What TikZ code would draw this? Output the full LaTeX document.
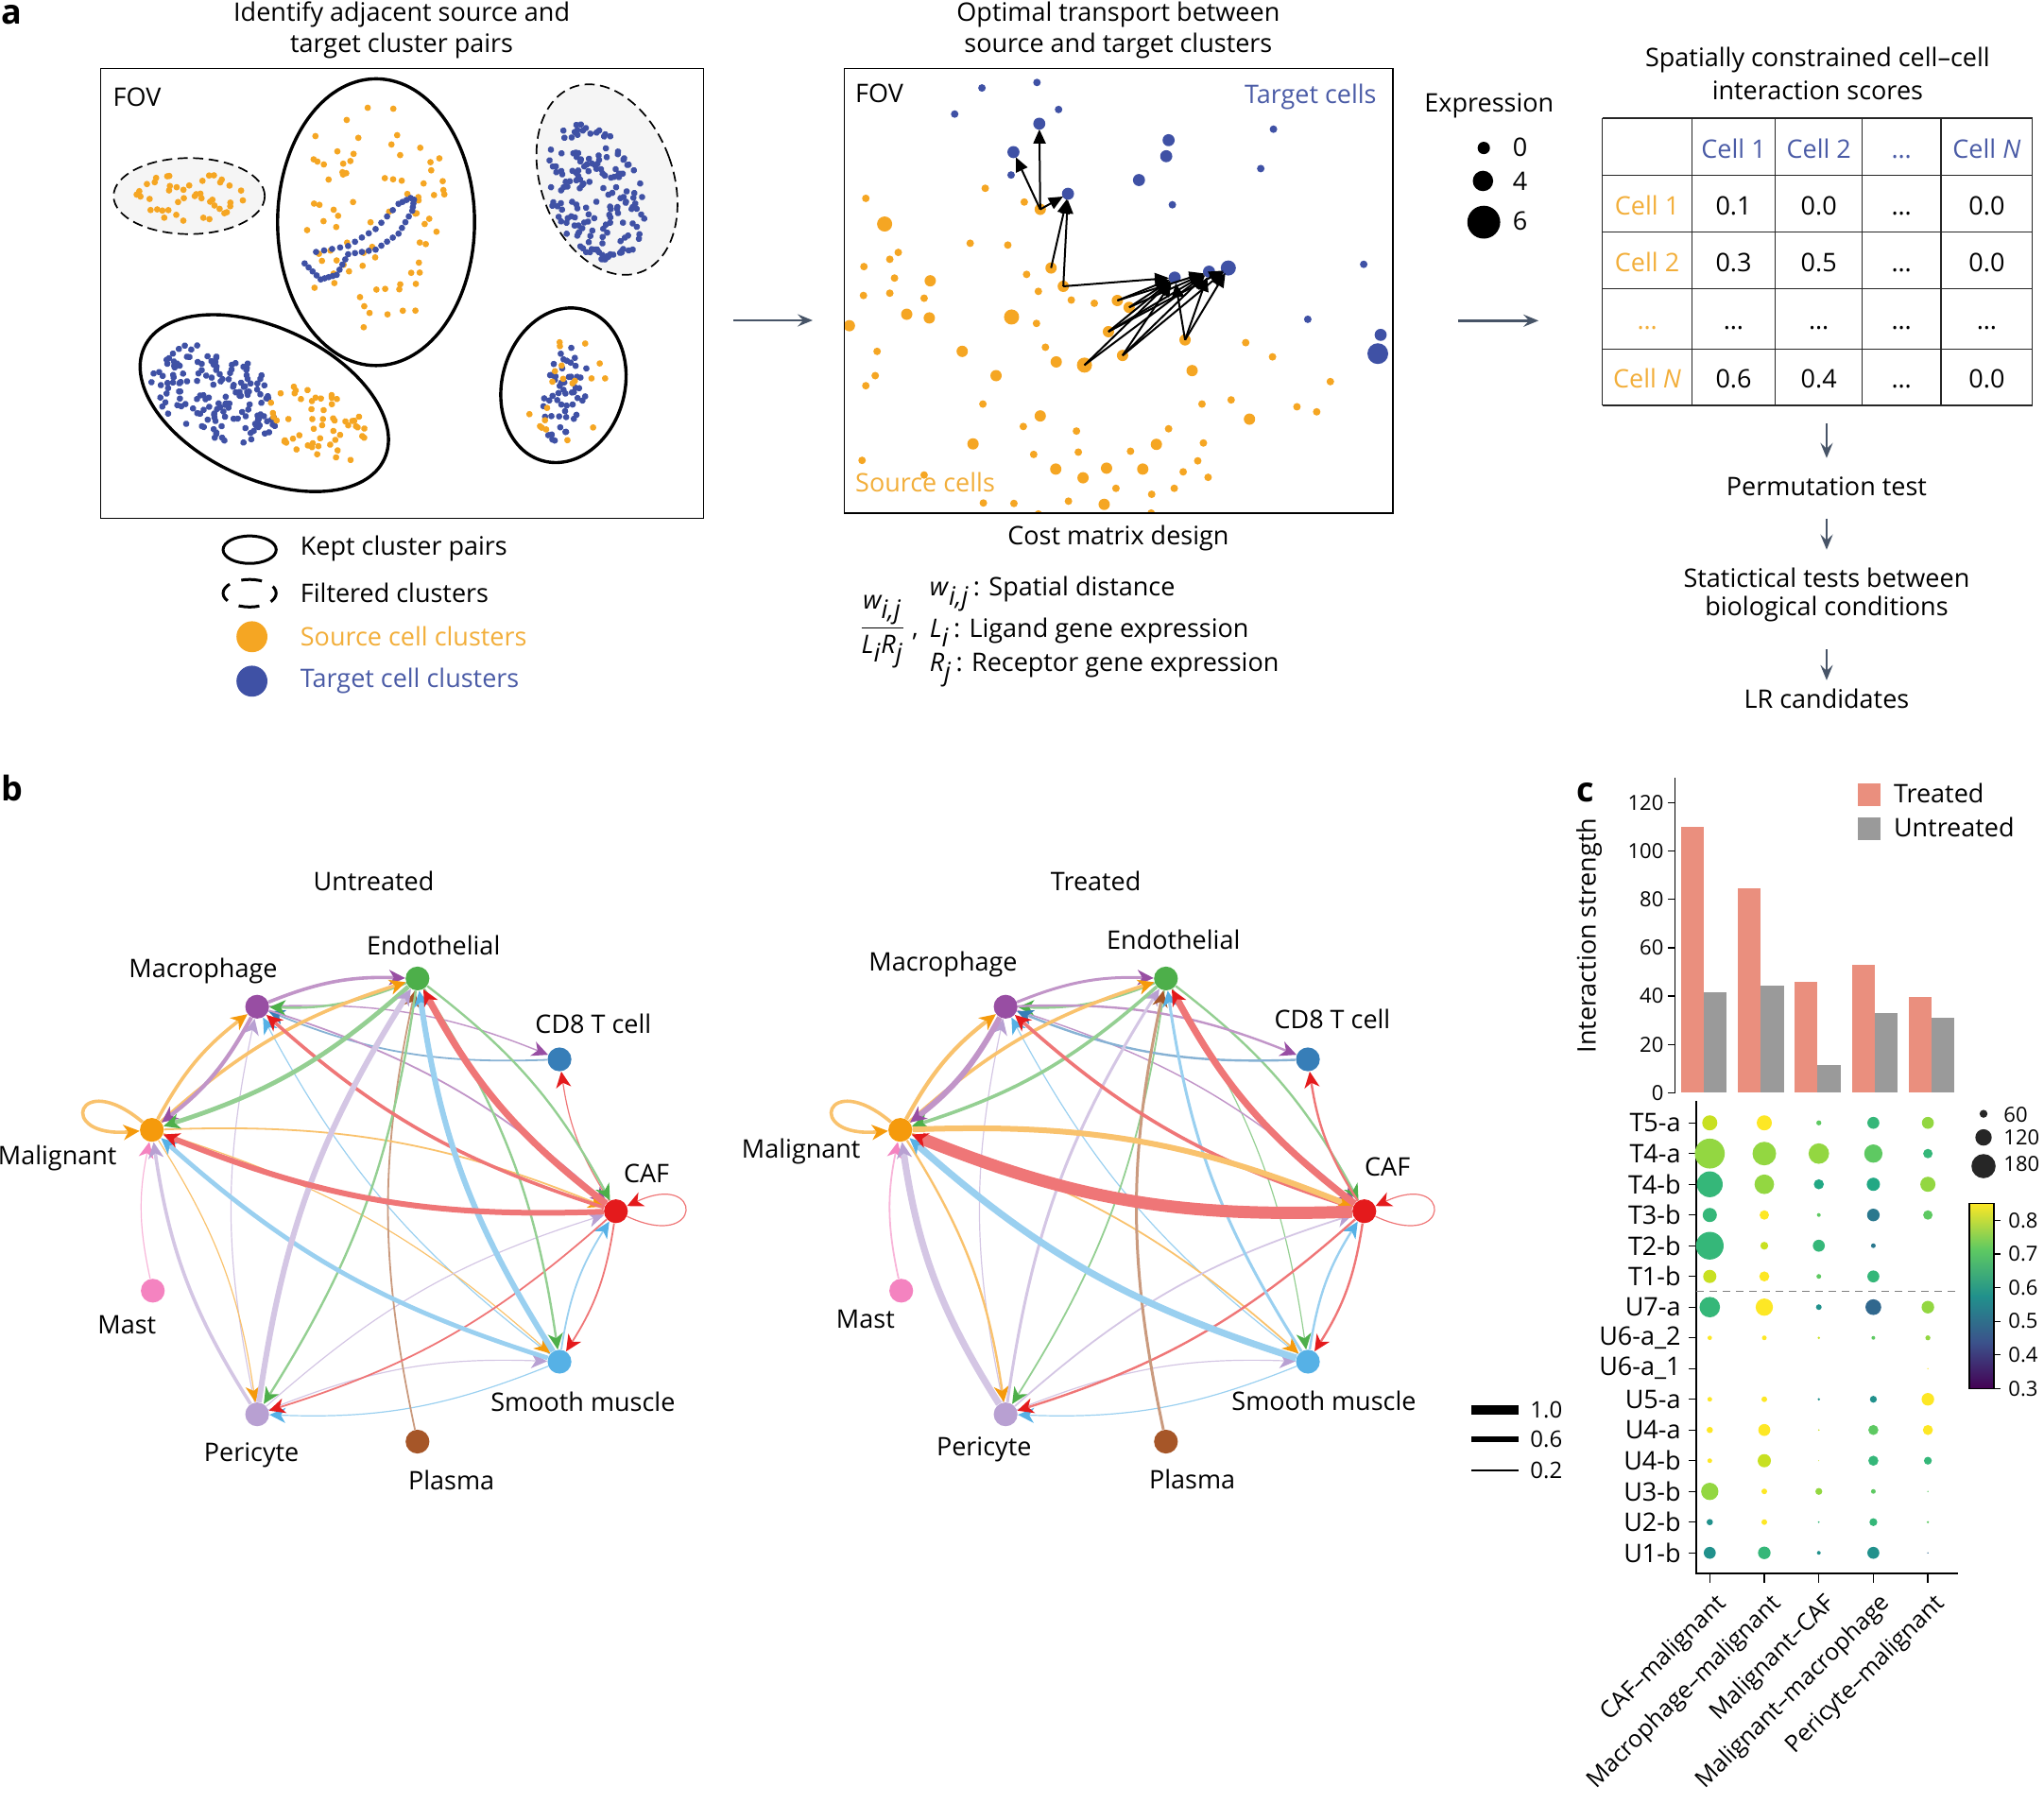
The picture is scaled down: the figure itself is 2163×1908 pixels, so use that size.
\documentclass[tikz,border=0pt]{standalone}
\usepackage{fontspec}
\setmainfont{Open Sans}
\usetikzlibrary{arrows.meta,calc,backgrounds}

\definecolor{src}{HTML}{F5A623}
\definecolor{tgt}{HTML}{3F51A5}
\definecolor{srctxt}{HTML}{F2AE3A}
\definecolor{tgttxt}{HTML}{4A5BA6}
\definecolor{slate}{HTML}{475467}
\definecolor{lightfill}{HTML}{F5F5F5}
\definecolor{cEnd}{HTML}{4DAF4A}
\definecolor{cMac}{HTML}{984EA3}
\definecolor{cCD8}{HTML}{377EB8}
\definecolor{cMal}{HTML}{F59A0C}
\definecolor{cCAF}{HTML}{E41A1C}
\definecolor{cMast}{HTML}{F483C0}
\definecolor{cSM}{HTML}{56B1E6}
\definecolor{cPer}{HTML}{B8A0D2}
\definecolor{cPla}{HTML}{A65628}
\definecolor{barT}{HTML}{EA8F7E}
\definecolor{barU}{HTML}{9A9A9A}
\definecolor{vA}{HTML}{440154}
\definecolor{vB}{HTML}{3B528B}
\definecolor{vC}{HTML}{21918C}
\definecolor{vD}{HTML}{5EC962}
\definecolor{vE}{HTML}{FDE725}
\definecolor{dY}{HTML}{FDE725}
\definecolor{dYG}{HTML}{C8E021}
\definecolor{dLG}{HTML}{93D741}
\definecolor{dG}{HTML}{5EC962}
\definecolor{dGT}{HTML}{35B779}
\definecolor{dT}{HTML}{22A884}
\definecolor{dTB}{HTML}{21918C}
\definecolor{dB}{HTML}{2A788E}
\definecolor{dDB}{HTML}{31688E}

\tikzset{
  smallfont/.style={font=\fontsize{11}{13}\selectfont},
  panel/.style={font=\fontsize{18}{18}\selectfont\bfseries, anchor=base west},
  flow/.style={draw=slate, line width=1.3pt, -{Stealth[length=8pt,width=6.5pt,inset=3pt]}},
  solidell/.style={line width=1.7pt},
  dashell/.style={line width=0.85pt, dash pattern=on 5.3pt off 2.9pt, fill=lightfill},
  tarr/.style={line width=1pt, -{Triangle[length=7.5pt,width=6.5pt]}, shorten >=3pt},
  ed/.style={draw=#1!60!white, -{Stealth[length=8.5pt,width=8pt,inset=2.5pt,color=#1]}},
  cnode/.style={circle, minimum size=12.6pt, inner sep=0pt},
}

\newcommand\scatdots[7]{%
  \begin{scope}[rotate around={#6:(#2,#3)}]
  \foreach \k in {1,...,#1}{%
    \pgfmathsetmacro\mydang{360*rnd}%
    \pgfmathsetmacro\mydrad{sqrt(rnd)}%
    \pgfmathsetmacro\myrx{\mydrad*#4}%
    \pgfmathsetmacro\myry{\mydrad*#5}%
    \fill[#7] (#2,#3) ++(\mydang:{\myrx} and {\myry}) circle[radius=1.7pt];
  }%
  \end{scope}}

\newcommand\edg[5]{\draw[ed=#4, line width={1.2*#5pt}] (#1#2) to[bend left=12] (#1#3);}

\newcommand\netnodes[1]{%
  \node[cnode,fill=cEnd] (#1E) at (888,433) {};
  \node[cnode,fill=cMac] (#1M) at (547,493) {};
  \node[cnode,fill=cCD8] (#1C) at (1190,605) {};
  \node[cnode,fill=cMal] (#1L) at (323,755) {};
  \node[cnode,fill=cCAF] (#1F) at (1310,928) {};
  \node[cnode,fill=cMast] (#1S) at (325,1097) {};
  \node[cnode,fill=cSM] (#1Q) at (1190,1248) {};
  \node[cnode,fill=cPer] (#1P) at (547,1360) {};
  \node[cnode,fill=cPla] (#1A) at (888,1418) {};
}

\begin{document}
\begin{tikzpicture}[x=0.5pt,y=-0.5pt, every node/.style={inner sep=0pt, font=\fontsize{13.5}{16.7}\selectfont}]
\useasboundingbox (0,0) rectangle (2163,1908);
\pgfmathsetseed{12}

% panel labels
\node[panel] (pa) at (1,25) {a};
\node[panel] (pb) at (1,847) {b};
\node[panel] (pc) at (1668,848) {c};

% ================= panel a left =================
\begin{scope}[x=0.24237pt,y=-0.24237pt]
  \node (title1a) at (877,32) {Identify adjacent source and};
  \node (title1b) at (877,100) {target cluster pairs};
  \draw[line width=0.7pt] (220,150) rectangle (1536,1132);
  \node[anchor=west] (fov1) at (246,212) {FOV};
  \draw[dashell] (413,428) ellipse [x radius=165, y radius=83];
  \draw[dashell, rotate around={20:(1325,392)}] (1325,392) ellipse [x radius=144, y radius=215];
  % dots
  \scatdots{45}{415}{430}{118}{55}{0}{src}
  \scatdots{170}{1300}{420}{100}{155}{20}{tgt}
  \scatdots{80}{812}{470}{172}{250}{0}{src}
  \foreach \ax/\ay/\bx/\by in {690/550/760/537, 760/537/820/500, 820/500/870/445, 870/445/905/428,
     665/575/700/610, 700/610/735/600, 735/600/760/555, 760/555/820/545, 820/545/870/510, 870/510/900/460, 900/460/905/428}
    \foreach \t in {0,0.25,0.5,0.75}
      \fill[tgt] ({\ax+\t*(\bx-\ax)},{\ay+\t*(\by-\ay)}) circle[radius=1.7pt];
  \scatdots{160}{468}{860}{150}{95}{-25}{tgt}
  \scatdots{55}{690}{925}{120}{75}{-25}{src}
  \scatdots{55}{1232}{860}{48}{105}{-10}{tgt}
  \scatdots{20}{1240}{850}{90}{120}{-10}{src}
  \draw[solidell] (821,485) ellipse [x radius=215, y radius=313];
  \draw[solidell, rotate around={-25:(577,880)}] (577,880) ellipse [x radius=289, y radius=165];
  \draw[solidell, rotate around={-15:(1230,841)}] (1230,841) ellipse [x radius=134, y radius=171];
  % legend
  \draw[line width=1.5pt] (545,1200) ellipse [x radius=58, y radius=30];
  \draw[line width=1.5pt, dash pattern=on 11pt off 6.5pt, dash phase=5.5pt] (545,1295) ellipse [x radius=58, y radius=30];
  \fill[src] (550,1390) circle[radius=8.2pt];
  \fill[tgt] (550,1487) circle[radius=8.2pt];
  \node[anchor=west] (lg1) at (655,1198) {Kept cluster pairs};
  \node[anchor=west] (lg2) at (655,1295) {Filtered clusters};
  \node[anchor=west, text=srctxt] (lg3) at (655,1390) {Source cell clusters};
  \node[anchor=west, text=tgttxt] (lg4) at (655,1487) {Target cell clusters};
\end{scope}

% arrow box1 -> box2
\coordinate (fa1) at (776,339);
\coordinate (fa2) at (860,339);
\draw[flow] (fa1) -- (fa2);

% ================= panel a middle =================
\begin{scope}[shift={(860,0)}, x=0.24876pt, y=-0.24237pt]
  \node (title2a) at (650,32) {Optimal transport between};
  \node (title2b) at (650,100) {source and target clusters};
  \begin{scope}
    \clip (67,150) rectangle (1234,1120);
    \foreach \xx/\yy in {113/433,109/582,164/566,182/551,174/607,108/645,164/640,237/651,137/767,133/820,113/842,476/706,495/758,550/655,599/662,480/636,455/599,415/535,335/531,367/411,450/441,921/748,978/779,1101/833,890/873,1030/888,1072/899,828/882,757/936,831/967,676/985,819/1006,841/1042,788/1030,565/987,561/941,470/992,448/931,362/882,105/1005,237/1037,363/1098,428/1099,544/1094,645/1066,721/1079,769/1066,480/1122,720/1120}
      \fill[src] (\xx,\yy) circle[radius=2pt];
    \foreach \xx/\yy in {250/613,200/686,248/694,78/711,318/767,390/820,518/790,659/776,629/724,648/656,673/671,507/585,533/625,484/457,792/742,807/809,929/915,731/970,702/1024,625/1022,575/1043,517/1024,484/908,341/969,620/1101}
      \fill[src] (\xx,\yy) circle[radius=3pt];
    \foreach \xx/\yy in {153/489,423/692,578/797}
      \fill[src] (\xx,\yy) circle[radius=4pt];
    \foreach \xx/\yy in {360/192,477/180,302/249,523/239,422/382,765/447,953/368,980/282,1172/577,1053/697}
      \fill[tgt] (\xx,\yy) circle[radius=2pt];
    \foreach \xx/\yy in {482/270,427/332,543/423,694/393,757/306,752/341,770/606,843/593,1208/731}
      \fill[tgt] (\xx,\yy) circle[radius=3.2pt];
    \fill[tgt] (884,585) circle[radius=4pt];
    \fill[tgt] (1202,772) circle[radius=5.5pt];
  \end{scope}
  \draw[line width=0.7pt] (67,150) rectangle (1234,1120);
  \node[anchor=west] (fov2) at (90,203) {FOV};
  \node[anchor=east, text=tgttxt] (tcells) at (1200,212) {Target cells};
  \node[anchor=west, text=srctxt] (scells) at (90,1052) {Source cells};
  \foreach \n/\xx/\yy in {s1/484/457, s2/507/585, s3/533/625, s4/648/656, s5/673/671, s6/629/724, s7/659/776, s8/578/797, s9/792/742,
      t1/482/270, t2/427/332, t3/543/423, t4/770/606, t5/843/593, t6/884/585}
    \coordinate (\n) at (\xx,\yy);
  \foreach \a/\b in {s1/t1, s1/t2, s1/t3, s2/t3, s3/t3, s3/t4, s4/t4, s4/t5, s5/t4, s5/t5, s6/t4, s6/t5, s6/t6, s7/t4, s7/t5, s7/t6, s8/t4, s8/t5, s9/t4, s9/t5, s9/t6}
    \draw[tarr] (\a) -- (\b);
  \node (costm) at (650,1175) {Cost matrix design};
  \node (frac) at (148,1380) {$\displaystyle\frac{\textit{w}_{\textit{i,j}}}{\textit{L}_{\textit{i}}\textit{R}_{\textit{j}}}$};
  \node (comma) at (218,1390) {,};
  \node[anchor=west] (f1) at (248,1297) {\textit{w}$_{\textit{i,j}}$\,: Spatial distance};
  \node[anchor=west] (f2) at (248,1380) {\textit{L}$_{\textit{i}}$\,: Ligand gene expression};
  \node[anchor=west] (f3) at (248,1462) {\textit{R}$_{\textit{j}}$\,: Receptor gene expression};
\end{scope}

% ================= panel a right =================
\begin{scope}[shift={(1480,0)}, x=0.21777pt, y=-0.24237pt]
  \node (expr) at (220,230) {Expression};
  \fill (207,323) circle[radius=3.27pt];
  \fill (205,395) circle[radius=5.4pt];
  \fill (207,485) circle[radius=8.7pt];
  \node (ex0) at (295,322) {0};
  \node (ex4) at (295,395) {4};
  \node (ex6) at (295,483) {6};
  \coordinate (fb1) at (145,700);
  \coordinate (fb2) at (340,700);
  \draw[flow] (fb1) -- (fb2);
  \node (title3a) at (1018,130) {Spatially constrained cell–cell};
  \node (title3b) at (1018,198) {interaction scores};
  \foreach \xx in {495,713,915,1127,1318,1540} \draw[line width=0.6pt, draw=black!85] (\xx,258) -- (\xx,885);
  \foreach \yy in {258,383,506,630,762,885} \draw[line width=0.6pt, draw=black!85] (495,\yy) -- (1540,\yy);
  % header
  \node[anchor=base, text=tgttxt] (h1) at (814,345) {Cell 1};
  \node[anchor=base, text=tgttxt] (h2) at (1021,345) {Cell 2};
  \node[anchor=base, text=tgttxt] (h3) at (1222,345) {…};
  \node[anchor=base, text=tgttxt] (h4) at (1429,345) {Cell \textit{N}};
  \node[anchor=base, text=srctxt] (r1) at (604,469) {Cell 1};
  \node[anchor=base, text=srctxt] (r2) at (604,593) {Cell 2};
  \node[anchor=base, text=srctxt] (r3) at (604,718) {…};
  \node[anchor=base, text=srctxt] (r4) at (604,847) {Cell \textit{N}};
  \foreach \cx/\a/\b/\c/\d in {814/0.1/0.3/…/0.6, 1021/0.0/0.5/…/0.4, 1222/…/…/…/…, 1429/0.0/0.0/…/0.0}{
    \node[anchor=base] (c\cx a) at (\cx,469) {\a};
    \node[anchor=base] (c\cx b) at (\cx,593) {\b};
    \node[anchor=base] (c\cx c) at (\cx,718) {\c};
    \node[anchor=base] (c\cx d) at (\cx,847) {\d};
  }
  \node (perm) at (1040,1062) {Permutation test};
  \node (stata) at (1040,1262) {Statictical tests between};
  \node (statb) at (1040,1330) {biological conditions};
  \node (lrc) at (1040,1525) {LR candidates};
  \coordinate (d1a) at (1040,925); \coordinate (d1b) at (1040,1000);
  \coordinate (d2a) at (1040,1132); \coordinate (d2b) at (1040,1200);
  \coordinate (d3a) at (1040,1418); \coordinate (d3b) at (1040,1485);
  \draw[flow] (d1a) -- (d1b);
  \draw[flow] (d2a) -- (d2b);
  \draw[flow] (d3a) -- (d3b);
\end{scope}

% ================= panel b untreated =================
\begin{scope}[shift={(0,820)}, x=0.24876pt, y=-0.24876pt]
  \node (uTitle) at (795,225) {Untreated};
  \netnodes{u}
  \node (uEl) at (922,363) {Endothelial};
  \node (uMl) at (432,417) {Macrophage};
  \node (uCl) at (1262,530) {CD8 T cell};
  \node (uLl) at (122,815) {Malignant};
  \node (uFl) at (1375,848) {CAF};
  \node (uSl) at (270,1170) {Mast};
  \node (uQl) at (1240,1333) {Smooth muscle};
  \node (uPl) at (535,1447) {Pericyte};
  \node (uAl) at (960,1500) {Plasma};
  \begin{scope}[on background layer]
    \draw[ed=cMal, line width=1.8pt] (uL) to[out=140,in=185,min distance=45pt] (uL);
    \draw[ed=cCAF, line width=0.6pt] (uF) to[out=-25,in=25,min distance=45pt] (uF);
    \edg{u}{P}{M}{cPer}{0.5}
    \edg{u}{Q}{M}{cSM}{0.5}
    \edg{u}{S}{L}{cMast}{0.5}
    \edg{u}{L}{Q}{cMal}{0.5}
    \edg{u}{L}{P}{cMal}{0.5}
    \edg{u}{P}{F}{cPer}{0.5}
    \edg{u}{P}{Q}{cPer}{0.5}
    \edg{u}{Q}{P}{cSM}{0.5}
    \edg{u}{F}{C}{cCAF}{0.5}
    \edg{u}{M}{C}{cMac}{0.6}
    \edg{u}{C}{M}{cCD8}{0.75}
    \edg{u}{M}{F}{cMac}{0.75}
    \edg{u}{A}{E}{cPla}{0.75}
    \edg{u}{L}{F}{cMal}{0.75}
    \edg{u}{Q}{F}{cSM}{0.75}
    \edg{u}{F}{Q}{cCAF}{0.75}
    \edg{u}{F}{P}{cCAF}{0.75}
    \edg{u}{E}{M}{cEnd}{1}
    \edg{u}{E}{F}{cEnd}{1}
    \edg{u}{E}{Q}{cEnd}{1}
    \edg{u}{E}{P}{cEnd}{1}
    \edg{u}{M}{E}{cMac}{1.5}
    \edg{u}{L}{E}{cMal}{1.5}
    \edg{u}{L}{M}{cMal}{1.5}
    \edg{u}{F}{M}{cCAF}{1.5}
    \edg{u}{P}{L}{cPer}{1.5}
    \edg{u}{M}{L}{cMac}{1.75}
    \edg{u}{E}{L}{cEnd}{2}
    \edg{u}{Q}{L}{cSM}{2}
    \edg{u}{P}{E}{cPer}{2.5}
    \edg{u}{Q}{E}{cSM}{2.5}
    \edg{u}{F}{L}{cCAF}{2.5}
    \edg{u}{F}{E}{cCAF}{3}
  \end{scope}
\end{scope}

% ================= panel b treated =================
\begin{scope}[shift={(792,820)}, x=0.24876pt, y=-0.24876pt]
  \node (tTitle) at (739,225) {Treated};
  \netnodes{t}
  \node (tEl) at (904,350) {Endothelial};
  \node (tMl) at (414,403) {Macrophage};
  \node (tCl) at (1242,520) {CD8 T cell};
  \node (tLl) at (112,800) {Malignant};
  \node (tFl) at (1359,833) {CAF};
  \node (tSl) at (249,1158) {Mast};
  \node (tQl) at (1224,1332) {Smooth muscle};
  \node (tPl) at (501,1435) {Pericyte};
  \node (tAl) at (944,1498) {Plasma};
  \begin{scope}[on background layer]
    \draw[ed=cMal, line width=1.8pt] (tL) to[out=140,in=185,min distance=45pt] (tL);
    \draw[ed=cCAF, line width=0.6pt] (tF) to[out=-25,in=25,min distance=45pt] (tF);
    \edg{t}{P}{M}{cPer}{0.5}
    \edg{t}{Q}{M}{cSM}{0.5}
    \edg{t}{E}{Q}{cEnd}{0.5}
    \edg{t}{P}{Q}{cPer}{0.5}
    \edg{t}{Q}{P}{cSM}{0.5}
    \edg{t}{M}{F}{cMac}{0.6}
    \edg{t}{S}{L}{cMast}{0.75}
    \edg{t}{L}{Q}{cMal}{0.75}
    \edg{t}{P}{F}{cPer}{0.75}
    \edg{t}{E}{P}{cEnd}{0.75}
    \edg{t}{E}{M}{cEnd}{1}
    \edg{t}{E}{F}{cEnd}{1}
    \edg{t}{C}{M}{cCD8}{1}
    \edg{t}{M}{C}{cMac}{1}
    \edg{t}{F}{C}{cCAF}{1}
    \edg{t}{L}{P}{cMal}{1}
    \edg{t}{Q}{F}{cSM}{1}
    \edg{t}{F}{Q}{cCAF}{1}
    \edg{t}{F}{P}{cCAF}{1}
    \edg{t}{M}{E}{cMac}{1.25}
    \edg{t}{P}{E}{cPer}{1.25}
    \edg{t}{A}{E}{cPla}{1.25}
    \edg{t}{Q}{E}{cSM}{1.25}
    \edg{t}{L}{E}{cMal}{1.5}
    \edg{t}{E}{L}{cEnd}{1.5}
    \edg{t}{F}{M}{cCAF}{1.5}
    \edg{t}{L}{M}{cMal}{1.75}
    \edg{t}{M}{L}{cMac}{2.5}
    \edg{t}{L}{F}{cMal}{2.5}
    \edg{t}{Q}{L}{cSM}{3}
    \edg{t}{P}{L}{cPer}{3}
    \edg{t}{F}{E}{cCAF}{3}
    \edg{t}{F}{L}{cCAF}{5.4}
  \end{scope}
\end{scope}

% line width legend
\draw[line width=5pt] (1557,1492) -- (1607,1492);
\draw[line width=3pt] (1557,1523) -- (1607,1523);
\draw[line width=0.7pt] (1557,1556) -- (1607,1556);
\node[anchor=west, font=\fontsize{12}{14}\selectfont] (lw1) at (1619,1492) {1.0};
\node[anchor=west, font=\fontsize{12}{14}\selectfont] (lw2) at (1619,1523) {0.6};
\node[anchor=west, font=\fontsize{12}{14}\selectfont] (lw3) at (1619,1556) {0.2};

% ================= panel c bars =================
\begin{scope}[shift={(1640,800)}, x=0.16678pt, y=-0.17857pt]
  \foreach \xx/\tv/\uv in {416/110/41.5, 597/84.5/44.5, 777/46/11.5, 958/53/33, 1138/39.5/31}{
    \fill[barT] (\xx,998) rectangle ({\xx+72},{998-7.1667*\tv});
    \fill[barU] ({\xx+72},998) rectangle ({\xx+145},{998-7.1667*\uv});
  }
  \draw[line width=0.7pt] (398,65) -- (398,998);
  \foreach \v in {0,20,...,120}{
    \draw[line width=0.7pt] (375,{998-7.1667*\v}) -- (398,{998-7.1667*\v});
    \node[anchor=east, smallfont] (yt\v) at (362,{998-7.1667*\v}) {\v};
  }
  \node[rotate=90] (ylab) at (125,532) {Interaction strength};
  \fill[barT] (978,82) rectangle (1048,148);
  \fill[barU] (978,183) rectangle (1048,248);
  \node[anchor=west] (legT) at (1090,110) {Treated};
  \node[anchor=west] (legU) at (1090,212) {Untreated};
\end{scope}

% ================= panel c dot plot =================
\draw[line width=0.7pt] (1795,1165) -- (1795,1665) -- (2072,1665);
\draw[gray, line width=0.8pt, dash pattern=on 4pt off 3pt] (1795,1366.5) -- (2072,1366.5);
\foreach \rw/\lab in {0/T5-a,1/T4-a,2/T4-b,3/T3-b,4/T2-b,5/T1-b,6/U7-a,7/U6-a\_2,8/U6-a\_1,9/U5-a,10/U4-a,11/U4-b,12/U3-b,13/U2-b,14/U1-b}{
  \draw[line width=0.7pt] (1787,{1188.2+32.5*\rw}) -- (1795,{1188.2+32.5*\rw});
  \node[anchor=east] (rl\rw) at (1779,{1188.2+32.5*\rw}) {\lab};
}
\foreach \cl/\lab in {0/CAF–malignant,1/Macrophage–malignant,2/Malignant–CAF,3/Malignant–macrophage,4/Pericyte–malignant}{
  \draw[line width=0.7pt] ({1809.3+57.7*\cl},1665) -- ({1809.3+57.7*\cl},1675);
  \node[rotate=45, anchor=east, font=\fontsize{12.6}{14}\selectfont] (xl\cl) at ({1809.3+57.7*\cl+14},1693) {\lab};
}
\foreach \rw/\cl/\dd/\cc in {0/0/48/dYG, 0/1/48/dY, 0/2/16/dG, 0/3/38/dGT, 0/4/38/dLG,
  1/0/95/dLG, 1/1/75/dLG, 1/2/65/dLG, 1/3/58/dG, 1/4/30/dGT,
  2/0/82/dGT, 2/1/62/dLG, 2/2/32/dT, 2/3/42/dT, 2/4/48/dLG,
  3/0/45/dGT, 3/1/30/dY, 3/2/12/dG, 3/3/40/dB, 3/4/30/dG,
  4/0/88/dGT, 4/1/25/dYG, 4/2/38/dGT, 4/3/15/dB,
  5/0/42/dYG, 5/1/32/dY, 5/2/15/dG, 5/3/38/dGT,
  6/0/65/dGT, 6/1/55/dY, 6/2/18/dTB, 6/3/50/dDB, 6/4/40/dLG,
  7/0/14/dY, 7/1/15/dY, 7/2/8/dYG, 7/3/12/dG, 7/4/16/dLG,
  8/4/4/dY,
  9/0/15/dY, 9/1/18/dY, 9/2/8/dTB, 9/3/22/dTB, 9/4/40/dY,
  10/0/20/dY, 10/1/38/dY, 10/2/5/dYG, 10/3/32/dG, 10/4/32/dY,
  11/0/15/dY, 11/1/42/dYG, 11/2/3/dYG, 11/3/32/dGT, 11/4/25/dGT,
  12/0/55/dLG, 12/1/18/dY, 12/2/22/dLG, 12/3/15/dG, 12/4/5/dG,
  13/0/20/dTB, 13/1/18/dY, 13/2/6/dGT, 13/3/25/dGT, 13/4/8/dG,
  14/0/38/dTB, 14/1/40/dGT, 14/2/12/dTB, 14/3/38/dTB, 14/4/4/dDB}{
  \fill[\cc] ({1809.3+57.7*\cl},{1188.2+32.5*\rw}) circle[radius={\dd pt/12}];
}
% size legend
\fill[black!85] (2099,1178.6) circle[radius=2.1pt];
\fill[black!85] (2099,1203.6) circle[radius=4.35pt];
\fill[black!85] (2099,1234) circle[radius=6.4pt];
\node[anchor=west, smallfont] (sz1) at (2120,1180) {60};
\node[anchor=west, smallfont] (sz2) at (2120,1204) {120};
\node[anchor=west, smallfont] (sz3) at (2120,1232) {180};
% colorbar
\shade[bottom color=vA, top color=vB] (2084,1469.3) rectangle (2110,1420.3);
\shade[bottom color=vB, top color=vC] (2084,1420.3) rectangle (2110,1371.3);
\shade[bottom color=vC, top color=vD] (2084,1371.3) rectangle (2110,1322.3);
\shade[bottom color=vD, top color=vE] (2084,1322.3) rectangle (2110,1273.2);
\draw[line width=0.6pt] (2084,1273.2) rectangle (2110,1469.3);
\foreach \v/\yy in {0.3/1469.3,0.4/1433.7,0.5/1398.1,0.6/1362.5,0.7/1326.9,0.8/1291.3}{
  \draw[line width=0.6pt] (2110,\yy) -- (2117,\yy);
  \node[anchor=west, smallfont] (cb\yy) at (2125,\yy) {\v};
}
\end{tikzpicture}
\end{document}
